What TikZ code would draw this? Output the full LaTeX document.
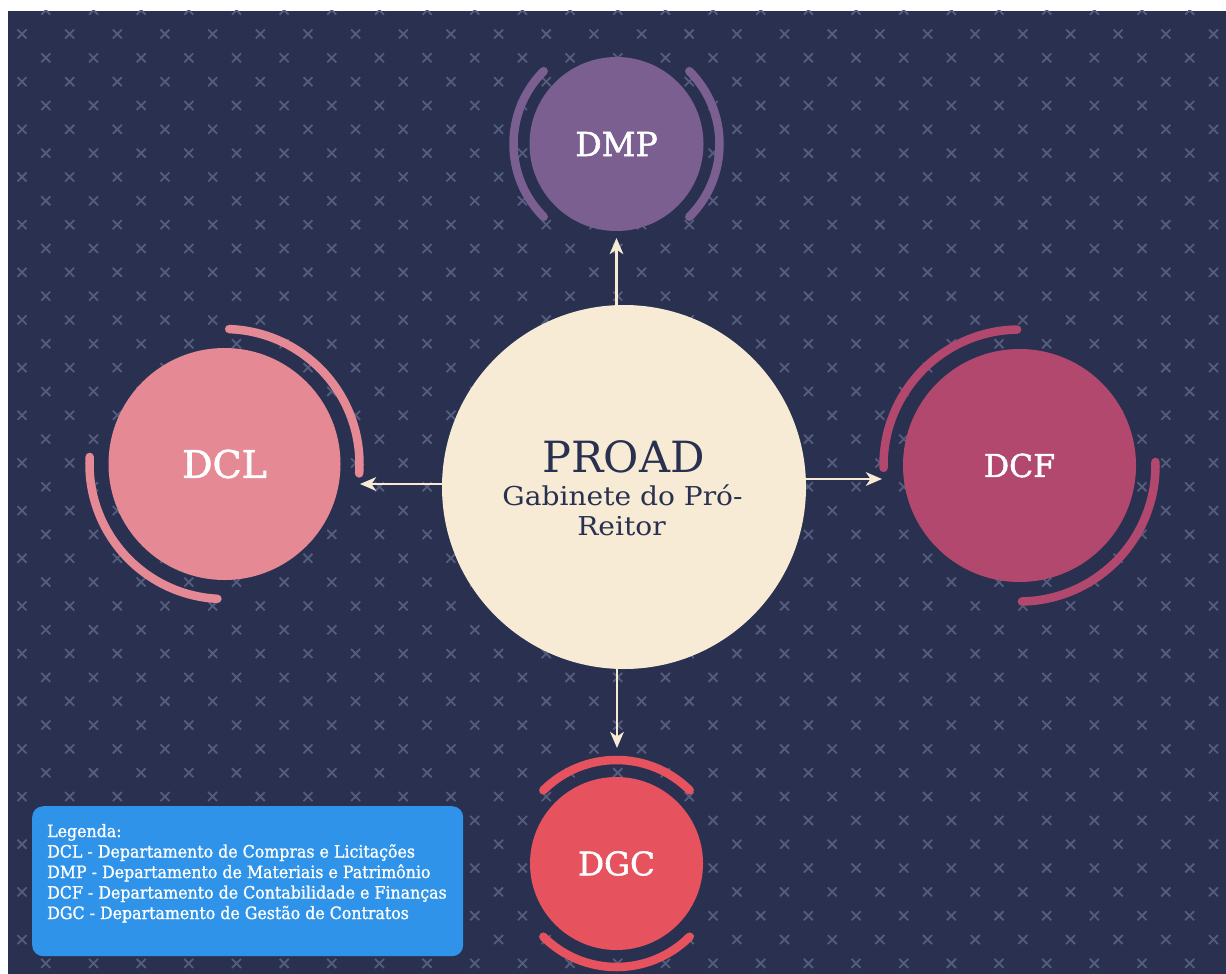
\documentclass[tikz,border=0pt]{standalone}
\usepackage{fontspec}
\setmainfont{DejaVu Serif}
\newfontfamily\legfont{DejaVu Serif}[FakeStretch=0.93,FakeBold=1.2]
\newfontfamily\subfont{DejaVu Serif}[FakeStretch=1.08]
\newfontfamily\lblfont{DejaVu Serif}[FakeBold=1.5]
\usetikzlibrary{arrows.meta}
\definecolor{bgnavy}{HTML}{2A3150}
\definecolor{xcol}{HTML}{555D7E}
\definecolor{cream}{HTML}{F7EBD6}
\definecolor{dmpcol}{HTML}{7B5F90}
\definecolor{dclcol}{HTML}{E58A95}
\definecolor{dcfcol}{HTML}{B3486F}
\definecolor{dgccol}{HTML}{E6535F}
\definecolor{legcol}{HTML}{2F93EA}
\begin{document}
\begin{tikzpicture}[x=1pt,y=-1pt,
  xmark/.style={draw=xcol,line width=1.8pt},
  dept/.style={circle,inner sep=0pt,text=white},
  ring/.style={line width=8.5pt,line cap=round},
  conn/.style={draw=cream,line width=2.8pt,-{Stealth[length=16pt,width=13.5pt,inset=4.5pt]}},
  legtext/.style={anchor=base west,inner sep=0pt,text=white,font=\legfont\fontsize{17}{20}\selectfont},
  proadtext/.style={anchor=base,inner sep=0pt,text=bgnavy}
]
\useasboundingbox (0,0) rectangle (1226,974);
\fill[white] (0,0) rectangle (1226,974);
\fill[bgnavy] (8,11) rectangle (1226,974);
\begin{scope}
\clip (8,11) rectangle (1226,974);
\foreach \k in {-1,...,40}{
  \pgfmathtruncatemacro\off{mod(\k+2,2)}
  \foreach \j in {0,...,25}{
    \pgfmathsetmacro\xx{22+23.83*(2*\j+\off)}
    \pgfmathsetmacro\yy{34+23.83*\k}
    \draw[xmark] (\xx-4.5,\yy-4.5) -- (\xx+4.5,\yy+4.5) (\xx-4.5,\yy+4.5) -- (\xx+4.5,\yy-4.5);
  }
}
\end{scope}

% central node
\node[circle,fill=cream,minimum size=364pt,inner sep=0pt] (proad) at (624,487) {};
\node[proadtext,font=\fontsize{43}{50}\selectfont] (proadt1) at (623.5,472) {PROAD};
\node[proadtext,font=\subfont\fontsize{26}{30}\selectfont] (proadt2) at (622.5,505) {Gabinete do Pró-};
\node[proadtext,font=\subfont\fontsize{26}{30}\selectfont] (proadt3) at (621.5,535) {Reitor};

% departments
\node[dept,fill=dmpcol,minimum size=174pt,font=\lblfont\fontsize{33}{40}\selectfont] (dmp) at (616.5,144) {DMP};
\node[dept,fill=dclcol,minimum size=232pt,font=\lblfont\fontsize{38}{44}\selectfont] (dcl) at (224.5,464) {DCL};
\node[dept,fill=dcfcol,minimum size=233pt,font=\lblfont\fontsize{31.5}{38}\selectfont] (dcf) at (1019.5,465.5) {DCF};
\node[dept,fill=dgccol,minimum size=173pt,font=\lblfont\fontsize{32.5}{38}\selectfont] (dgc) at (616.5,863.5) {DGC};

% rings
\draw[ring,dmpcol] ([shift={(-135:103)}]dmp.center) arc[start angle=-135,end angle=-225,radius=103];
\draw[ring,dmpcol] ([shift={(45:103)}]dmp.center) arc[start angle=45,end angle=-45,radius=103];
\draw[ring,dclcol] ([shift={(4:135)}]dcl.center) arc[start angle=4,end angle=-88,radius=135];
\draw[ring,dclcol] ([shift={(-177:135)}]dcl.center) arc[start angle=-177,end angle=-267,radius=135];
\draw[ring,dcfcol] ([shift={(-91:136)}]dcf.center) arc[start angle=-91,end angle=-181,radius=136];
\draw[ring,dcfcol] ([shift={(89:136)}]dcf.center) arc[start angle=89,end angle=-1.5,radius=136];
\draw[ring,dgccol] ([shift={(-45:103.5)}]dgc.center) arc[start angle=-45,end angle=-135,radius=103.5];
\draw[ring,dgccol] ([shift={(-225:103.5)}]dgc.center) arc[start angle=-225,end angle=-315,radius=103.5];

% connectors
\coordinate (tipT) at (616.5,238);
\coordinate (tipB) at (617,748);
\coordinate (tipL) at (360,484);
\coordinate (tipR) at (882,479);
\coordinate (srcT) at (proad.north -| tipT);
\coordinate (srcB) at (proad.south -| tipB);
\coordinate (srcL) at (proad.west |- tipL);
\coordinate (srcR) at (proad.east |- tipR);
\draw[conn] ([yshift=-1pt]srcT) -- (tipT);
\draw[conn] ([yshift=1pt]srcB) -- (tipB);
\draw[conn] (srcL) -- (tipL);
\draw[conn] (srcR) -- (tipR);

% legend
\node[fill=legcol,rounded corners=11pt,minimum width=431pt,minimum height=150pt,anchor=north west,inner sep=0pt] (legend) at (32,806) {};
\node[legtext] (leg0) at (47,837) {Legenda:};
\node[legtext] (leg1) at (47,857.5) {DCL - Departamento de Compras e Licitações};
\node[legtext] (leg2) at (47,878) {DMP - Departamento de Materiais e Patrimônio};
\node[legtext] (leg3) at (47,898.5) {DCF - Departamento de Contabilidade e Finanças};
\node[legtext] (leg4) at (47,919) {DGC - Departamento de Gestão de Contratos};
\end{tikzpicture}
\end{document}
